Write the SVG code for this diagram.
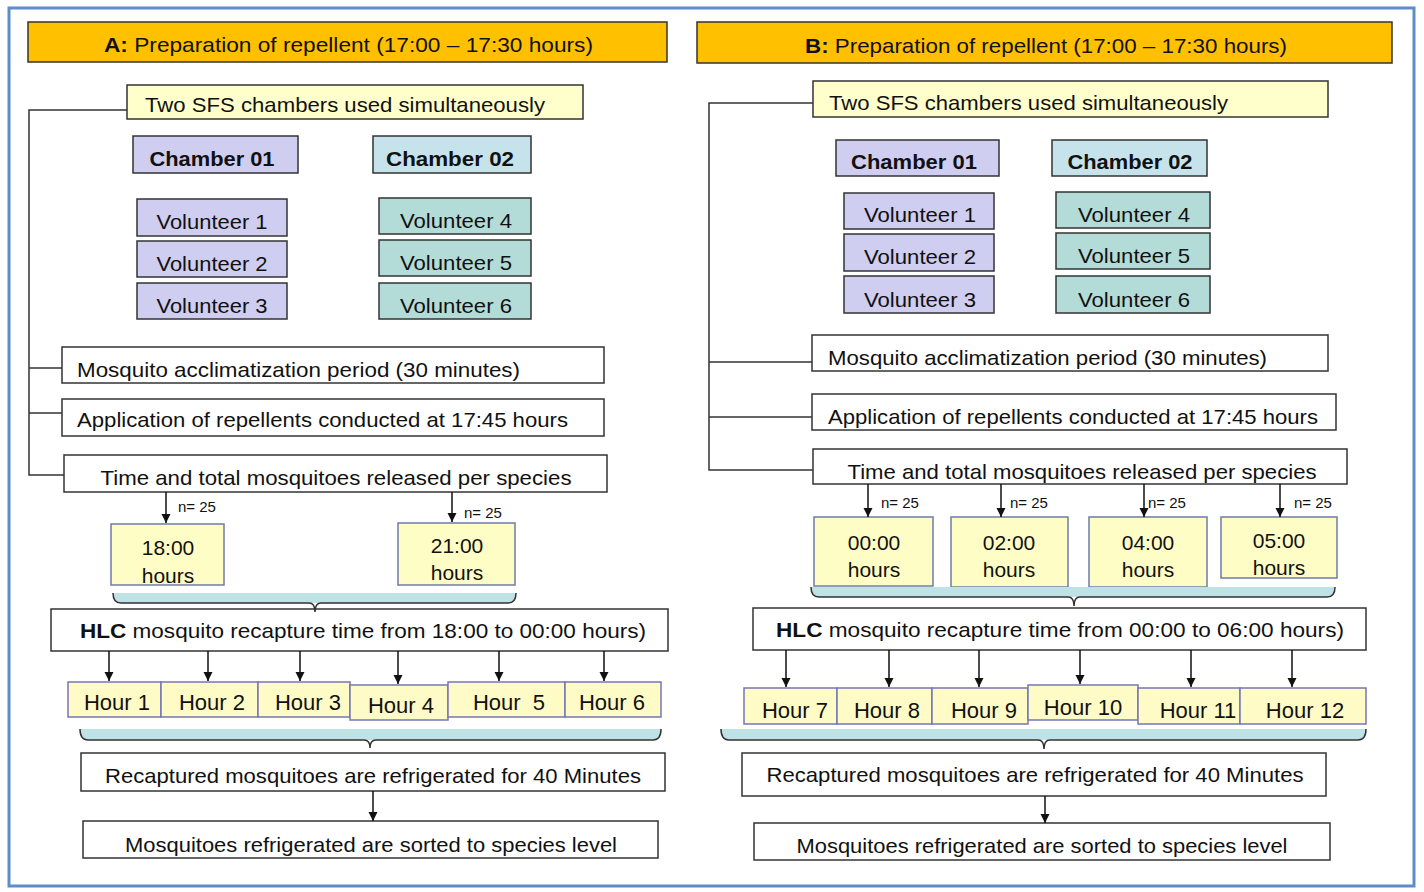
<svg xmlns="http://www.w3.org/2000/svg" width="1424" height="892" viewBox="0 0 1424 892">
<defs>
<marker id="ah" markerUnits="userSpaceOnUse" markerWidth="9" markerHeight="11" refX="10" refY="5" orient="auto" viewBox="0 0 10 10">
<path d="M0,0 L10,5 L0,10 z" fill="#111"/>
</marker>
<style>
.bx{stroke:#333;stroke-width:1.5}
.wh{fill:#fff}
.yl{fill:#FFFFCC}
.lav{fill:#CFCDF0}
.ch2{fill:#C6E3EC}
.tl{fill:#B3DCD8}
.org{fill:#FFC000}
.tb{fill:#FFFDC6;stroke:#6F7BA8;stroke-width:1.5}
.hb{fill:#FFFBC6;stroke:#7575B8;stroke-width:1.5}
.t{font-family:"Liberation Sans",Arial,sans-serif;fill:#111;font-size:21px}
.c{text-anchor:middle}
.b{font-weight:bold}
.n{font-size:15px}
.h{font-size:22px}
.ln{stroke:#333;stroke-width:1.5;fill:none}
.ar{stroke:#111;stroke-width:1.5;fill:none;marker-end:url(#ah)}
.brf{fill:#BFE2E6;stroke:none}
.brs{fill:none;stroke:#333;stroke-width:1.5}
</style>
</defs>
<rect x="0" y="0" width="1424" height="892" fill="#fff"/>
<rect x="9" y="8" width="1405" height="878" fill="none" stroke="#5E8CC8" stroke-width="3"/>

<!-- Panel A -->
<g id="A_header"><rect class="bx org" x="28" y="22" width="639" height="40"/><text class="t" x="104" y="52" font-size="20" textLength="489" lengthAdjust="spacingAndGlyphs"><tspan class="b">A:</tspan>  Preparation of repellent  (17:00 – 17:30 hours)</text></g>
<g id="A_sfs"><rect class="bx yl" x="127" y="85" width="456" height="34"/><text class="t" x="145" y="112" textLength="400" lengthAdjust="spacingAndGlyphs">Two SFS chambers used simultaneously</text></g>
<g id="A_ch1"><rect class="bx lav" x="133" y="136" width="165" height="37"/><text class="t c b" x="212" y="166" font-size="20" textLength="125" lengthAdjust="spacingAndGlyphs">Chamber 01</text></g>
<g id="A_ch2"><rect class="bx ch2" x="373" y="136" width="158" height="37"/><text class="t c b" x="450" y="166" font-size="20" textLength="128" lengthAdjust="spacingAndGlyphs">Chamber 02</text></g>
<g id="A_v1"><rect class="bx lav" x="137" y="199" width="150" height="37"/><text class="t c" x="212" y="229" textLength="111" lengthAdjust="spacingAndGlyphs">Volunteer 1</text></g>
<g id="A_v2"><rect class="bx lav" x="137" y="241" width="150" height="36"/><text class="t c" x="212" y="271" textLength="111" lengthAdjust="spacingAndGlyphs">Volunteer 2</text></g>
<g id="A_v3"><rect class="bx lav" x="137" y="283" width="150" height="36"/><text class="t c" x="212" y="313" textLength="111" lengthAdjust="spacingAndGlyphs">Volunteer 3</text></g>
<g id="A_v4"><rect class="bx tl" x="379" y="198" width="152" height="36"/><text class="t c" x="456" y="228" textLength="112" lengthAdjust="spacingAndGlyphs">Volunteer 4</text></g>
<g id="A_v5"><rect class="bx tl" x="379" y="240" width="152" height="36"/><text class="t c" x="456" y="270" textLength="112" lengthAdjust="spacingAndGlyphs">Volunteer 5</text></g>
<g id="A_v6"><rect class="bx tl" x="379" y="283" width="152" height="36"/><text class="t c" x="456" y="313" textLength="112" lengthAdjust="spacingAndGlyphs">Volunteer 6</text></g>
<g id="A_accl"><rect class="bx wh" x="62" y="347" width="542" height="36"/><text class="t" x="77" y="377" textLength="443" lengthAdjust="spacingAndGlyphs">Mosquito acclimatization period  (30 minutes)</text></g>
<g id="A_appl"><rect class="bx wh" x="62" y="399" width="542" height="37"/><text class="t" x="77" y="427" textLength="491" lengthAdjust="spacingAndGlyphs">Application of repellents conducted at 17:45 hours</text></g>
<g id="A_time"><rect class="bx wh" x="64" y="455" width="543" height="37"/><text class="t c" x="336" y="485" textLength="471" lengthAdjust="spacingAndGlyphs">Time and total  mosquitoes released per species</text></g>
<g id="A_t18"><rect class="tb" x="111" y="524" width="113" height="61"/><text class="t c" x="168" y="555">18:00</text><text class="t c" x="168" y="583">hours</text></g>
<g id="A_t21"><rect class="tb" x="398" y="523" width="117" height="62"/><text class="t c" x="457" y="553">21:00</text><text class="t c" x="457" y="580">hours</text></g>
<g id="A_hlc"><rect class="bx wh" x="51" y="609" width="617" height="42"/><text class="t" x="80" y="638" textLength="566" lengthAdjust="spacingAndGlyphs"><tspan class="b">HLC</tspan> mosquito recapture  time from 18:00 to  00:00 hours)</text></g>
<g id="A_h1"><rect class="hb" x="68" y="682" width="93" height="35"/><text class="t c h" x="117" y="710">Hour 1</text></g>
<g id="A_h2"><rect class="hb" x="161" y="682" width="97" height="35"/><text class="t c h" x="212" y="710">Hour 2</text></g>
<g id="A_h3"><rect class="hb" x="258" y="682" width="92" height="35"/><text class="t c h" x="308" y="710">Hour 3</text></g>
<g id="A_h4"><rect class="hb" x="350" y="685" width="98" height="35"/><text class="t c h" x="401" y="713">Hour 4</text></g>
<g id="A_h5"><rect class="hb" x="448" y="682" width="117" height="35"/><text class="t c h" x="509" y="710" xml:space="preserve">Hour  5</text></g>
<g id="A_h6"><rect class="hb" x="565" y="682" width="96" height="35"/><text class="t c h" x="612" y="710">Hour 6</text></g>
<g id="A_recap"><rect class="bx wh" x="81" y="753" width="584" height="38"/><text class="t c" x="373" y="783" textLength="536" lengthAdjust="spacingAndGlyphs">Recaptured mosquitoes are refrigerated for 40 Minutes</text></g>
<g id="A_sort"><rect class="bx wh" x="83" y="821" width="575" height="37"/><text class="t c" x="371" y="852" textLength="492" lengthAdjust="spacingAndGlyphs">Mosquitoes refrigerated are sorted to species level</text></g>

<!-- Panel B -->
<g id="B_header"><rect class="bx org" x="697" y="22" width="695" height="41"/><text class="t" x="805" y="53" font-size="20" textLength="482" lengthAdjust="spacingAndGlyphs"><tspan class="b">B:</tspan> Preparation of repellent  (17:00 – 17:30 hours)</text></g>
<g id="B_sfs"><rect class="bx yl" x="813" y="81" width="515" height="36"/><text class="t" x="829" y="110" textLength="399" lengthAdjust="spacingAndGlyphs">Two SFS chambers used simultaneously</text></g>
<g id="B_ch1"><rect class="bx lav" x="836" y="140" width="163" height="36"/><text class="t c b" x="914" y="169" font-size="20" textLength="126" lengthAdjust="spacingAndGlyphs">Chamber 01</text></g>
<g id="B_ch2"><rect class="bx ch2" x="1052" y="140" width="155" height="36"/><text class="t c b" x="1130" y="169" font-size="20" textLength="125" lengthAdjust="spacingAndGlyphs">Chamber 02</text></g>
<g id="B_v1"><rect class="bx lav" x="844" y="193" width="150" height="36"/><text class="t c" x="920" y="222" textLength="112" lengthAdjust="spacingAndGlyphs">Volunteer 1</text></g>
<g id="B_v2"><rect class="bx lav" x="844" y="234" width="150" height="37"/><text class="t c" x="920" y="264" textLength="112" lengthAdjust="spacingAndGlyphs">Volunteer 2</text></g>
<g id="B_v3"><rect class="bx lav" x="844" y="276" width="150" height="37"/><text class="t c" x="920" y="307" textLength="112" lengthAdjust="spacingAndGlyphs">Volunteer 3</text></g>
<g id="B_v4"><rect class="bx tl" x="1056" y="192" width="154" height="36"/><text class="t c" x="1134" y="222" textLength="112" lengthAdjust="spacingAndGlyphs">Volunteer 4</text></g>
<g id="B_v5"><rect class="bx tl" x="1056" y="233" width="154" height="36"/><text class="t c" x="1134" y="263" textLength="112" lengthAdjust="spacingAndGlyphs">Volunteer 5</text></g>
<g id="B_v6"><rect class="bx tl" x="1056" y="276" width="154" height="37"/><text class="t c" x="1134" y="307" textLength="112" lengthAdjust="spacingAndGlyphs">Volunteer 6</text></g>
<g id="B_accl"><rect class="bx wh" x="812" y="335" width="516" height="36"/><text class="t" x="828" y="365" textLength="439" lengthAdjust="spacingAndGlyphs">Mosquito acclimatization period (30 minutes)</text></g>
<g id="B_appl"><rect class="bx wh" x="812" y="394" width="524" height="36"/><text class="t" x="828" y="424" textLength="490" lengthAdjust="spacingAndGlyphs">Application of repellents conducted at 17:45 hours</text></g>
<g id="B_time"><rect class="bx wh" x="813" y="449" width="534" height="35"/><text class="t c" x="1082" y="479" textLength="469" lengthAdjust="spacingAndGlyphs">Time and total mosquitoes released per species</text></g>
<g id="B_t00"><rect class="tb" x="814" y="517" width="119" height="69"/><text class="t c" x="874" y="550">00:00</text><text class="t c" x="874" y="577">hours</text></g>
<g id="B_t02"><rect class="tb" x="951" y="517" width="117" height="70"/><text class="t c" x="1009" y="550">02:00</text><text class="t c" x="1009" y="577">hours</text></g>
<g id="B_t04"><rect class="tb" x="1089" y="517" width="118" height="70"/><text class="t c" x="1148" y="550">04:00</text><text class="t c" x="1148" y="577">hours</text></g>
<g id="B_t05"><rect class="tb" x="1221" y="517" width="116" height="61"/><text class="t c" x="1279" y="548">05:00</text><text class="t c" x="1279" y="575">hours</text></g>
<g id="B_hlc"><rect class="bx wh" x="753" y="608" width="613" height="42"/><text class="t" x="776" y="637" textLength="568" lengthAdjust="spacingAndGlyphs"><tspan class="b">HLC</tspan> mosquito recapture  time  from 00:00 to  06:00 hours)</text></g>
<g id="B_h7"><rect class="hb" x="744" y="688" width="93" height="36"/><text class="t c h" x="795" y="718">Hour 7</text></g>
<g id="B_h8"><rect class="hb" x="837" y="688" width="95" height="36"/><text class="t c h" x="887" y="718">Hour 8</text></g>
<g id="B_h9"><rect class="hb" x="932" y="688" width="96" height="36"/><text class="t c h" x="984" y="718">Hour 9</text></g>
<g id="B_h10"><rect class="hb" x="1028" y="685" width="110" height="35"/><text class="t c h" x="1083" y="715">Hour 10</text></g>
<g id="B_h11"><rect class="hb" x="1138" y="688" width="102" height="36"/><text class="t c h" x="1198" y="718">Hour 11</text></g>
<g id="B_h12"><rect class="hb" x="1240" y="688" width="126" height="36"/><text class="t c h" x="1305" y="718">Hour 12</text></g>
<g id="B_recap"><rect class="bx wh" x="742" y="753" width="584" height="43"/><text class="t c" x="1035" y="782" textLength="537" lengthAdjust="spacingAndGlyphs">Recaptured mosquitoes are refrigerated for 40 Minutes</text></g>
<g id="B_sort"><rect class="bx wh" x="754" y="823" width="576" height="37"/><text class="t c" x="1042" y="853" textLength="491" lengthAdjust="spacingAndGlyphs">Mosquitoes refrigerated are sorted to species level</text></g>

<!-- connectors -->
<g id="connectors">
<path class="ln" d="M127,110 H29 V475 H64 M29,368 H62 M29,413 H62"/>
<path class="ln" d="M813,103 H709 V470 H813 M709,362 H812 M709,417 H812"/>
<path class="ar" d="M166,492 V523"/>
<path class="ar" d="M452,492 V522"/>
<path class="ar" d="M868,484 V517"/>
<path class="ar" d="M1001,484 V517"/>
<path class="ar" d="M1144,484 V517"/>
<path class="ar" d="M1280,484 V517"/>
<path class="ar" d="M109,651 V681"/>
<path class="ar" d="M208,651 V681"/>
<path class="ar" d="M300,651 V681"/>
<path class="ar" d="M398,651 V684"/>
<path class="ar" d="M499,651 V681"/>
<path class="ar" d="M604,651 V681"/>
<path class="ar" d="M786,650 V687"/>
<path class="ar" d="M889,650 V687"/>
<path class="ar" d="M979,650 V687"/>
<path class="ar" d="M1080,650 V684"/>
<path class="ar" d="M1191,650 V687"/>
<path class="ar" d="M1292,650 V687"/>
<path class="ar" d="M373,791 V821"/>
<path class="ar" d="M1045,796 V823"/>
<!-- braces -->
<path class="brf" d="M113,593 H516 Q516,603 508,603 H121 Q113,603 113,593 Z"/>
<path class="brs" d="M113,593 Q113,603 121,603 H309 Q315,603 315,612 Q315,603 321,603 H508 Q516,603 516,593"/>
<path class="brf" d="M811,587 H1335 Q1335,597 1327,597 H819 Q811,597 811,587 Z"/>
<path class="brs" d="M811,587 Q811,597 819,597 H1068 Q1074,597 1074,606 Q1074,597 1080,597 H1327 Q1335,597 1335,587"/>
<path class="brf" d="M80,729 H661 Q661,740 653,740 H88 Q80,740 80,729 Z"/>
<path class="brs" d="M80,729 Q80,740 88,740 H364 Q370,740 370,748 Q370,740 376,740 H653 Q661,740 661,729"/>
<path class="brf" d="M721,729 H1366 Q1366,740 1358,740 H729 Q721,740 721,729 Z"/>
<path class="brs" d="M721,729 Q721,740 729,740 H1038 Q1044,740 1044,749 Q1044,740 1050,740 H1358 Q1366,740 1366,729"/>
</g>
<g id="labels">
<text class="t n" x="178" y="512">n= 25</text>
<text class="t n" x="464" y="518">n= 25</text>
<text class="t n" x="881" y="508">n= 25</text>
<text class="t n" x="1010" y="508">n= 25</text>
<text class="t n" x="1148" y="508">n= 25</text>
<text class="t n" x="1294" y="508">n= 25</text>
</g>
</svg>
